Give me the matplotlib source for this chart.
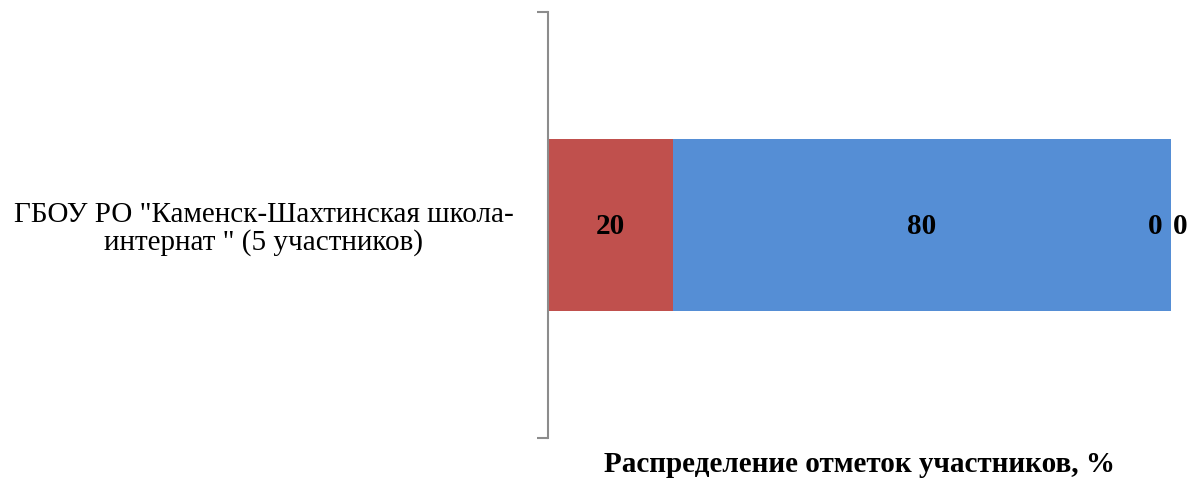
import matplotlib
matplotlib.use("Agg")
import matplotlib.pyplot as plt

categories = ['ГБОУ РО "Каменск-Шахтинская школа-\nинтернат " (5 участников)']
series_names = ["2", "3", "4", "5"]
series_values = [[20], [80], [0], [0]]
series_colors = ["#C0504D", "#558ED5", "#9BBB59", "#8064A2"]
label_offsets_px = [0, 0, -16, 9]
xlabel = "Распределение отметок участников, %"

plt.rcParams['font.family'] = ['Liberation Serif', 'DejaVu Serif']

fig = plt.figure(figsize=(11.9, 4.79), dpi=100)
W, H = 1190, 479
ax = fig.add_axes([548 / W, 1 - 438 / H, (1171 - 548) / W, (438 - 12) / H])

ypos = list(range(len(categories)))
left = [0.0] * len(categories)
for vals, color, off in zip(series_values, series_colors, label_offsets_px):
    bars = ax.barh(ypos, vals, left=left, height=0.404, color=color)
    for i, (b, v) in enumerate(zip(bars, vals)):
        cx = left[i] + v / 2
        ax.annotate(f"{v:g}", (cx, ypos[i]), xytext=(off, -2), textcoords='offset pixels',
                    ha='center', va='center', fontsize=21, fontweight='bold', color='black')
    left = [l + v for l, v in zip(left, vals)]

ax.set_xlim(0, 100)
ax.set_ylim(-0.5, len(categories) - 0.5)

for s in ['top', 'right', 'bottom']:
    ax.spines[s].set_visible(False)
ax.spines['left'].set_color('#8C8C8C')
ax.spines['left'].set_linewidth(1.5)

ax.set_xticks([])
ax.set_yticks([-0.5 + k for k in range(len(categories) + 1)], labels=[''] * (len(categories) + 1))
ax.tick_params(axis='y', which='major', length=8, width=1.5, color='#8C8C8C', direction='out')
ax.set_yticks(ypos, minor=True, labels=categories)
ax.tick_params(axis='y', which='minor', length=0, pad=25, labelsize=21)
for t in ax.get_yticklabels(minor=True):
    t.set_multialignment('center')
    t.set_linespacing(1.05)

ax.set_xlabel(xlabel, fontsize=21, fontweight='bold', labelpad=9)

fig.savefig("out.png", dpi=100)
